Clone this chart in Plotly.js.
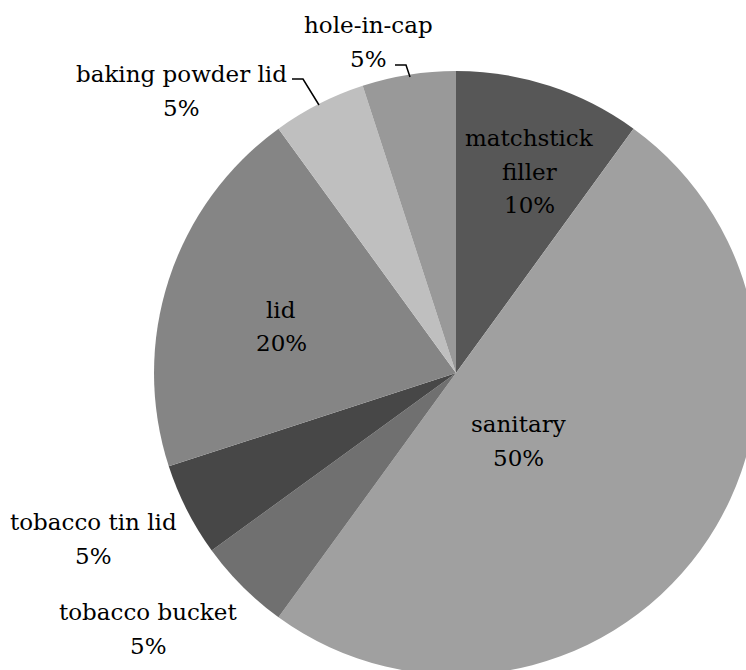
<!DOCTYPE html>
<html>
<head>
<meta charset="utf-8">
<script src="https://cdn.plot.ly/plotly-3.0.1.min.js"></script>
<style>
html, body { margin: 0; padding: 0; overflow: hidden; background: #fff; }
#chart { width: 800px; height: 700px; }
</style>
</head>
<body>
<div id="chart"></div>
<script>
// ---- data ----
const categories = ['matchstick filler', 'sanitary', 'tobacco bucket', 'tobacco tin lid', 'lid', 'baking powder lid', 'hole-in-cap'];
const values = [10, 50, 5, 5, 20, 5, 5];
const sliceColors = ['#575757', '#a0a0a0', '#707070', '#474747', '#858585', '#bfbfbf', '#999999'];

// ---- layout helpers (pixel positions of label lines: first line baseline, x center) ----
const labelAnchors = [
  {x: 529, y: 146, split: true},
  {x: 518, y: 432, split: false},
  {x: 148, y: 620, split: false},
  {x: 93,  y: 530, split: false},
  {x: 281, y: 318, split: false},
  {x: 181, y: 82,  split: false},
  {x: 368, y: 33,  split: false}
];
const lineGap = 33.5;
const W = 800, H = 700;
const px = x => x / W;
const py = y => 1 - y / H;

const serif = '"DejaVu Serif", serif';
const fontSpec = {family: serif, size: 23, color: '#000'};
const total = values.reduce((a, b) => a + b, 0);
const annotations = [];
categories.forEach((name, i) => {
  const pct = Math.round(values[i] / total * 100) + '%';
  const lines = (labelAnchors[i].split ? name.split(' ') : [name]).concat([pct]);
  lines.forEach((ln, k) => {
    annotations.push({
      xref: 'paper', yref: 'paper',
      x: px(labelAnchors[i].x), y: py(labelAnchors[i].y + k * lineGap - 8),
      xanchor: 'center', yanchor: 'middle',
      text: ln, showarrow: false, font: fontSpec
    });
  });
});

const leader = pts => 'M' + pts.map(p => px(p[0]) + ',' + py(p[1])).join(' L');
const shapes = [
  {type: 'path', xref: 'paper', yref: 'paper', path: leader([[292, 79], [303, 79], [319, 105]]), line: {color: '#000', width: 1.5}},
  {type: 'path', xref: 'paper', yref: 'paper', path: leader([[395, 65], [406, 65], [410, 77]]), line: {color: '#000', width: 1.5}}
];

const trace = {
  type: 'pie',
  labels: categories,
  values: values,
  sort: false,
  direction: 'clockwise',
  rotation: 0,
  marker: {colors: sliceColors, line: {width: 0}},
  textinfo: 'none',
  hoverinfo: 'label+percent',
  showlegend: false,
  domain: {x: [154 / W, 758 / W], y: [1 - 675 / H, 1 - 71 / H]}
};

const layout = {
  width: W, height: H,
  margin: {l: 0, r: 0, t: 0, b: 0},
  paper_bgcolor: '#fff',
  showlegend: false,
  font: fontSpec,
  annotations: annotations,
  shapes: shapes
};

Plotly.newPlot('chart', [trace], layout, {displayModeBar: false, staticPlot: true});
</script>
</body>
</html>
